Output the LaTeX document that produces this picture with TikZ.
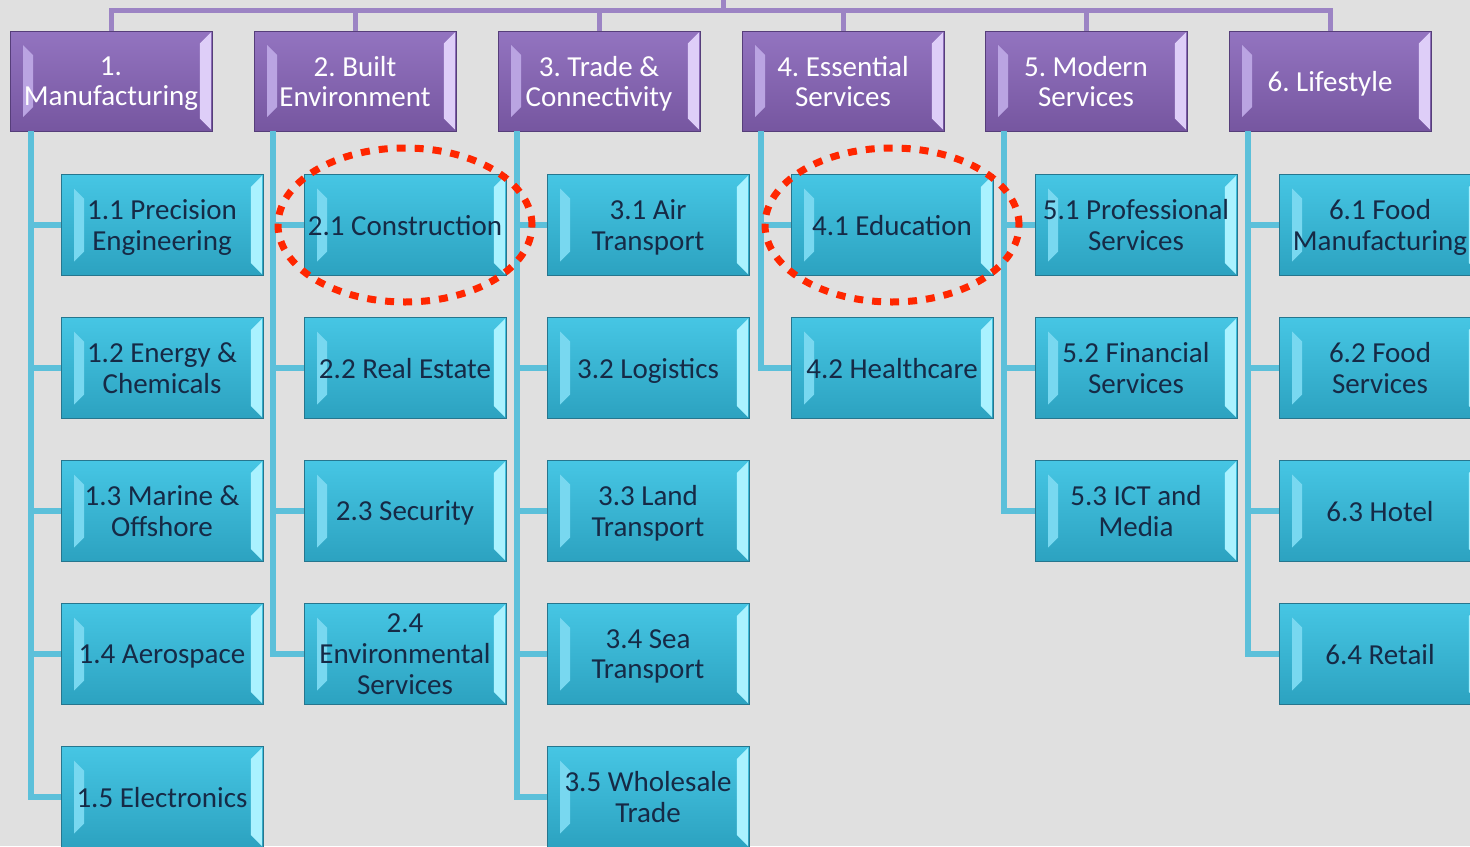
\documentclass[tikz,border=0pt]{standalone}
\usepackage{fontspec}
\setmainfont{Carlito}
\usepackage{tikz}
\usetikzlibrary{positioning,shapes.geometric,calc}
\frenchspacing
\definecolor{canvasgray}{RGB}{224,224,224}
\definecolor{catpurpletop}{RGB}{147,116,192}
\definecolor{catpurplebot}{RGB}{118,86,160}
\definecolor{catedge}{RGB}{86,62,122}
\definecolor{catlightl}{RGB}{186,164,226}
\definecolor{catlightr}{RGB}{222,206,248}
\definecolor{subtealtop}{RGB}{70,198,228}
\definecolor{subtealbot}{RGB}{44,162,192}
\definecolor{subedge}{RGB}{38,118,142}
\definecolor{sublightl}{RGB}{120,216,240}
\definecolor{sublightr}{RGB}{170,242,255}
\definecolor{subtext}{RGB}{22,42,70}
\definecolor{linkpurple}{RGB}{156,132,196}
\definecolor{linkteal}{RGB}{92,192,218}
\definecolor{markred}{RGB}{255,38,0}
\tikzset{
  bevel/.style 2 args={path picture={
    \fill[#1] ([shift={(6.5pt,-7pt)}]path picture bounding box.north west) -- ++(5pt,-5pt)
      -- ([shift={(11.5pt,12pt)}]path picture bounding box.south west) -- ++(-5pt,-5pt) -- cycle;
    \fill[#2] ([shift={(-0.6pt,-0.8pt)}]path picture bounding box.north east) -- ++(-5.5pt,-5.5pt)
      -- ([shift={(-6.1pt,6.3pt)}]path picture bounding box.south east) -- ++(5.5pt,-5.5pt) -- cycle;
  }},
  cat-node/.style={draw=catedge, top color=catpurpletop, bottom color=catpurplebot,
    bevel={catlightl}{catlightr}, minimum width=101pt, minimum height=50pt, text depth=0pt,
    text=white, font=\fontsize{14.5}{15}\selectfont, align=center, inner sep=1pt},
  sub-node/.style={draw=subedge, top color=subtealtop, bottom color=subtealbot,
    bevel={sublightl}{sublightr}, minimum width=101pt, minimum height=50.5pt, text depth=0pt,
    text=subtext, font=\fontsize{14.5}{15.3}\selectfont, align=center, inner sep=1pt},
  top-line/.style={draw=linkpurple, line width=2.5pt},
  branch-line/.style={draw=linkteal, line width=3pt},
  hilite/.style={ellipse, draw=markred, line width=3.5pt, dash pattern=on 4.5pt off 4.5pt,
    minimum width=127pt, minimum height=77pt, inner sep=0pt}
}
\begin{document}
\begin{tikzpicture}[x=0.5pt, y=-0.5pt]
\useasboundingbox (0,0) rectangle (1470,846);
\clip (0,0) rectangle (1470,846);
\fill[canvasgray] (0,0) rectangle (1470,846);
% sectors
\node[cat-node] (cat1) at (111,81)  {1.\\Manufacturing};
\node[cat-node] (cat2) at (355,81)  {2. Built\\Environment};
\node[cat-node] (cat3) at (599,81)  {3. Trade \&\\Connectivity};
\node[cat-node] (cat4) at (843,81)  {4. Essential\\Services};
\node[cat-node] (cat5) at (1086,81) {5. Modern\\Services};
\node[cat-node] (cat6) at (1330,81) {6. Lifestyle};
% clusters
\node[sub-node] (s11) at (162,225) {1.1 Precision\\Engineering};
\node[sub-node] (s12) at (162,368) {1.2 Energy \&\\Chemicals};
\node[sub-node] (s13) at (162,511) {1.3 Marine \&\\Offshore};
\node[sub-node] (s14) at (162,654) {1.4 Aerospace};
\node[sub-node] (s15) at (162,797) {1.5 Electronics};
\node[sub-node] (s21) at (405,225) {2.1 Construction};
\node[sub-node] (s22) at (405,368) {2.2 Real Estate};
\node[sub-node] (s23) at (405,511) {2.3 Security};
\node[sub-node] (s24) at (405,654) {2.4\\Environmental\\Services};
\node[sub-node] (s31) at (648,225) {3.1 Air\\Transport};
\node[sub-node] (s32) at (648,368) {3.2 Logistics};
\node[sub-node] (s33) at (648,511) {3.3 Land\\Transport};
\node[sub-node] (s34) at (648,654) {3.4 Sea\\Transport};
\node[sub-node] (s35) at (648,797) {3.5 Wholesale\\Trade};
\node[sub-node] (s41) at (892,225) {4.1 Education};
\node[sub-node] (s42) at (892,368) {4.2 Healthcare};
\node[sub-node] (s51) at (1136,225) {5.1 Professional\\Services};
\node[sub-node] (s52) at (1136,368) {5.2 Financial\\Services};
\node[sub-node] (s53) at (1136,511) {5.3 ICT and\\Media};
\node[sub-node] (s61) at (1380,225) {6.1 Food\\Manufacturing};
\node[sub-node] (s62) at (1380,368) {6.2 Food\\Services};
\node[sub-node] (s63) at (1380,511) {6.3 Hotel};
\node[sub-node] (s64) at (1380,654) {6.4 Retail};
% bar joining the sectors
\coordinate (bar) at (723,10);
\coordinate (root) at (723,-6);
\draw[top-line] (bar) -- (root);
\foreach \c in {1,...,6}
  \draw[top-line] (cat\c.north) |- (bar);
% elbows down to the clusters
\foreach \r in {1,...,5}
  \draw[branch-line] ([xshift=10.5pt]cat1.south west) |- (s1\r.west);
\foreach \r in {1,...,4}
  \draw[branch-line] ([xshift=9.5pt]cat2.south west) |- (s2\r.west);
\foreach \r in {1,...,5}
  \draw[branch-line] ([xshift=9.5pt]cat3.south west) |- (s3\r.west);
\foreach \r in {1,2}
  \draw[branch-line] ([xshift=9.5pt]cat4.south west) |- (s4\r.west);
\foreach \r in {1,...,3}
  \draw[branch-line] ([xshift=9.5pt]cat5.south west) |- (s5\r.west);
\foreach \r in {1,...,4}
  \draw[branch-line] ([xshift=9.5pt]cat6.south west) |- (s6\r.west);
% marked clusters
\node[hilite] (mark21) at (s21) {};
\node[hilite] (mark41) at (s41) {};
\end{tikzpicture}
\end{document}
